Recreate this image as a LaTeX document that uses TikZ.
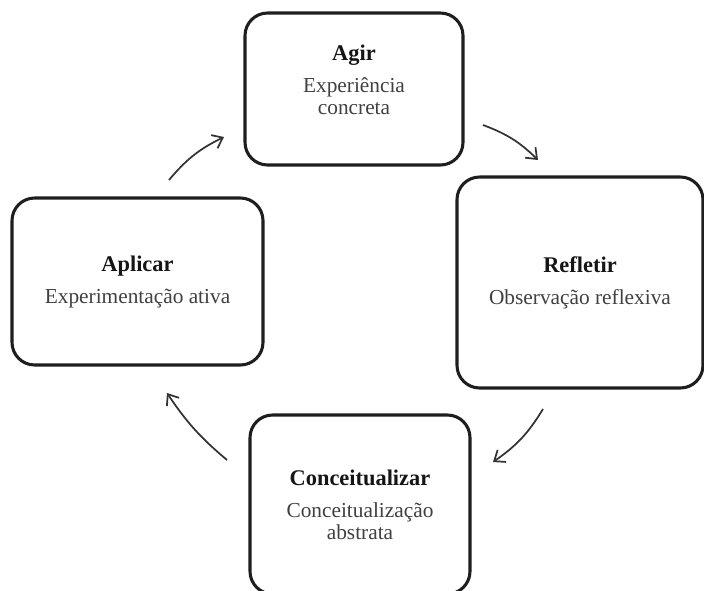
\documentclass[tikz,border=0pt]{standalone}
\usepackage{fontspec}
\setmainfont{Liberation Serif}
\usepackage{tikz}
\usetikzlibrary{arrows.meta}

\definecolor{boxline}{HTML}{1E1E1E}
\definecolor{subtext}{HTML}{404040}
\definecolor{titletext}{HTML}{151515}
\definecolor{arrowgray}{HTML}{333333}

\newcommand{\etapatitulo}[1]{{\color{titletext}\fontsize{16.8}{16.5}\selectfont\textbf{#1}}}

\begin{document}
\begin{tikzpicture}[x=0.75pt, y=-0.75pt,
    etapa/.style={draw=boxline, line width=2.3pt, rounded corners=17pt,
        align=center, text=subtext, inner sep=0pt,
        font=\fontsize{16}{16.5}\selectfont},
    seta/.style={draw=arrowgray, line width=1.3pt,
        -{Straight Barb[length=7pt,width=11pt]}}]
    \clip (0,0) rectangle (704,590);

    % The four stages
    \node[etapa, minimum width=163.5pt, minimum height=114pt] (agir) at (354,89)
        {\etapatitulo{Agir}\\[7.5pt]Experiência\\concreta\rule[-14pt]{0pt}{14pt}};
    \node[etapa, minimum width=184.5pt, minimum height=158.25pt] (refletir) at (580,282.5)
        {\etapatitulo{Refletir}\\[7.5pt]Observação reflexiva};
    \node[etapa, minimum width=188.25pt, minimum height=125.25pt] (aplicar) at (137.5,281.5)
        {\etapatitulo{Aplicar}\\[7.5pt]Experimentação ativa};
    \node[etapa, minimum width=165pt, minimum height=134.25pt] (conceitualizar) at (360,504.5)
        {\etapatitulo{Conceitualizar}\\[7.5pt]Conceitualização\\abstrata};

    % Arrow ends
    \coordinate (s1) at (169,180);
    \coordinate (e1) at (224,137);
    \coordinate (s2) at (483,125);
    \coordinate (e2) at (538,160);
    \coordinate (s3) at (543,409);
    \coordinate (e3) at (493,462);
    \coordinate (s4) at (227,460);
    \coordinate (e4) at (167,393);

    % Cycle arrows
    \draw[seta] (s1) to[bend left=12] (e1);
    \draw[seta] (s2) to[bend left=12] (e2);
    \draw[seta] (s3) to[bend left=12] (e3);
    \draw[seta] (s4) to[bend left=8] (e4);
\end{tikzpicture}
\end{document}
